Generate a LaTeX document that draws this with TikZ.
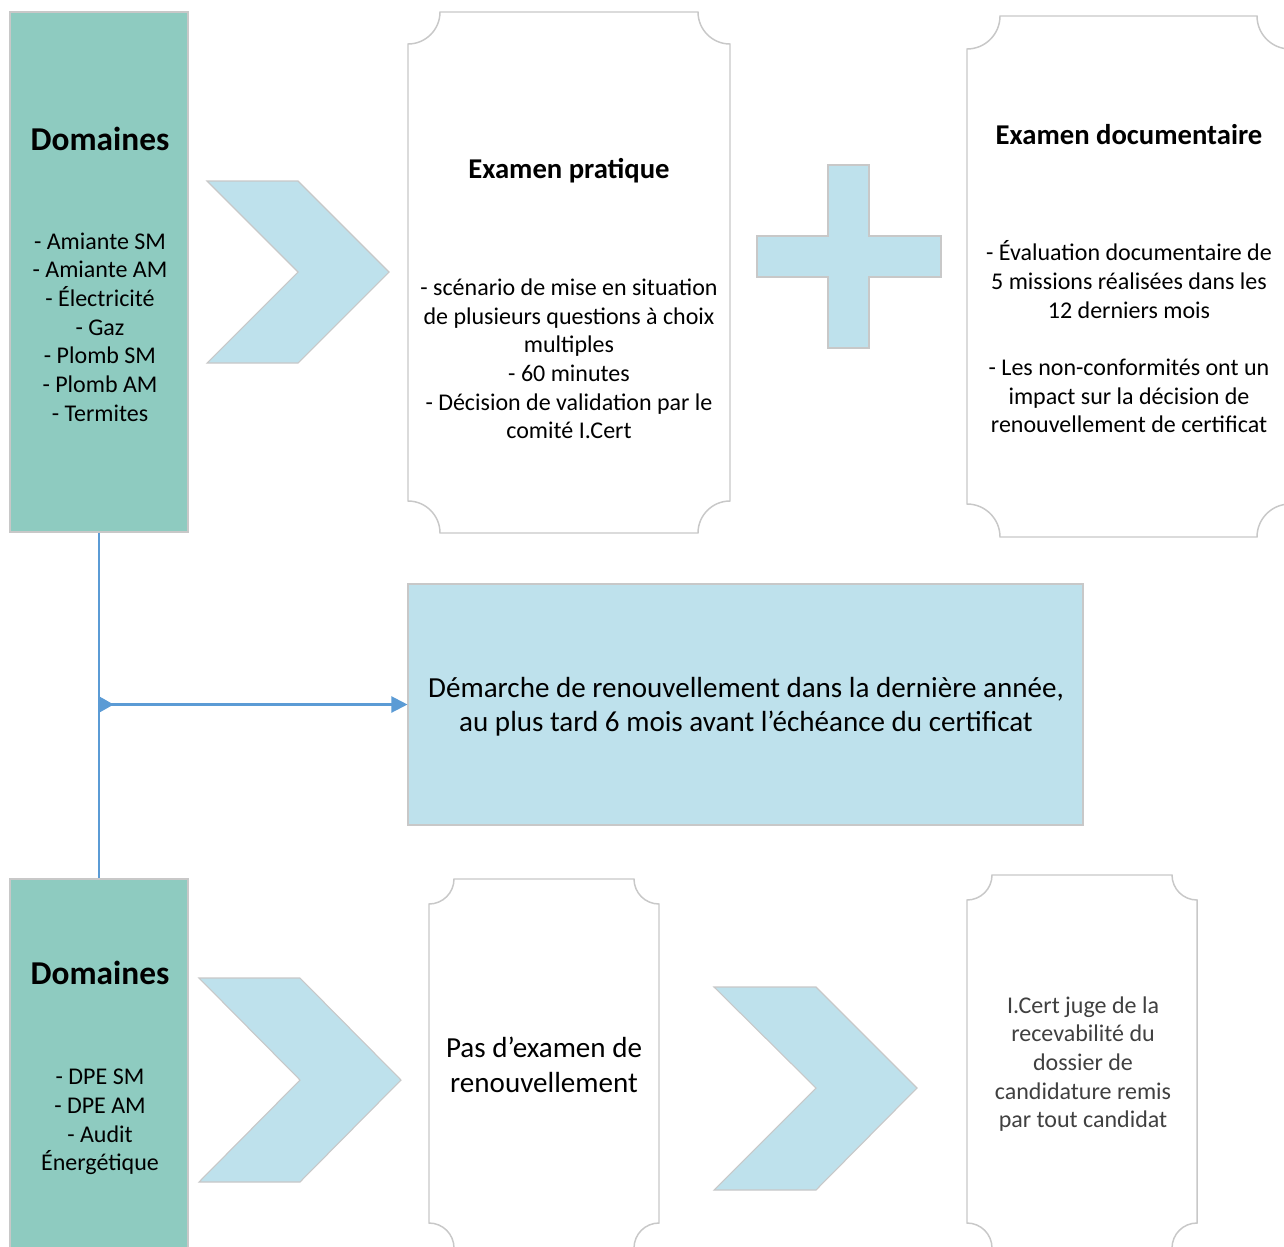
\documentclass[tikz,border=0pt]{standalone}
\usepackage{fontspec}
\setmainfont{Carlito}
\usetikzlibrary{arrows.meta}
\definecolor{tealfill}{HTML}{8ECBC0}
\definecolor{lblue}{HTML}{BEE1EC}
\definecolor{edgegray}{HTML}{C8C8C8}
\definecolor{linkblue}{HTML}{5B9BD5}
\definecolor{txtgray}{HTML}{404040}
\newcommand{\txtBody}{\fontsize{18pt}{21.5pt}\selectfont}
\newcommand{\txtBig}{\fontsize{21.8pt}{25.8pt}\selectfont}
\newcommand{\txtHead}{\fontsize{21.5pt}{25pt}\selectfont\bfseries}
\newcommand{\txtDom}{\fontsize{25pt}{29pt}\selectfont\bfseries}
\newcommand{\plaquepath}[5]{%
  \draw[plaque] ({#1+#5},#2) -- ({#3-#5},#2)
   .. controls ({#3-#5},{#2+0.552*#5}) and ({#3-0.552*#5},{#2+#5}) .. (#3,{#2+#5})
   -- (#3,{#4-#5})
   .. controls ({#3-0.552*#5},{#4-#5}) and ({#3-#5},{#4-0.552*#5}) .. ({#3-#5},#4)
   -- ({#1+#5},#4)
   .. controls ({#1+#5},{#4-0.552*#5}) and ({#1+0.552*#5},{#4-#5}) .. (#1,{#4-#5})
   -- (#1,{#2+#5})
   .. controls ({#1+0.552*#5},{#2+#5}) and ({#1+#5},{#2+0.552*#5}) .. cycle;}
\tikzset{
  plaque/.style={draw=edgegray, line width=1.1pt, fill=white},
  domainbox/.style={draw=edgegray, line width=0.8pt, fill=tealfill, minimum width=133.5pt, inner sep=0pt},
  shapefill/.style={draw=edgegray, line width=0.8pt, fill=lblue, line join=miter},
  txt/.style={align=center, inner sep=0pt, text=black},
  link/.style={draw=linkblue, line width=1.6pt}
}
\begin{document}
\begin{tikzpicture}[x=0.75pt,y=-0.75pt]
\clip (0,0) rectangle (1284,1246);
\fill[white] (0,0) rectangle (1284,1246);

% domain boxes
\node[domainbox, minimum height=390pt] (dom1) at (99,272) {};
\node[domainbox, minimum height=290.25pt] (dom2) at (99,1072.5) {};

% main rectangle
\node[shapefill, minimum width=506.25pt, minimum height=180.75pt, inner sep=0pt] (rect) at (745.5,704.5) {};

% connectors
\coordinate (junc) at (dom1.south |- rect.west);
\draw[link] (dom1.south) -- (dom2.north);
\draw[link, {Triangle[reversed,length=11pt,width=12pt]}-{Triangle[length=12pt,width=12pt]}] (junc) -- (rect.west);

% chevrons
\path[shapefill] (207,181) -- (298,181) -- (389,272) -- (298,363) -- (207,363) -- (298,272) -- cycle;
\path[shapefill] (199,978) -- (300,978) -- (401,1080) -- (300,1182) -- (199,1182) -- (300,1080) -- cycle;
\path[shapefill] (714,987) -- (816,987) -- (917,1088) -- (816,1190) -- (714,1190) -- (816,1088) -- cycle;

% plus sign
\path[shapefill] (828,165) -- (869,165) -- (869,236) -- (941,236) -- (941,277) -- (869,277) -- (869,348) -- (828,348) -- (828,277) -- (757,277) -- (757,236) -- (828,236) -- cycle;

% plaques
\plaquepath{408}{12}{730}{533}{32}
\plaquepath{967}{16}{1290}{537}{33}
\plaquepath{429}{879}{659}{1248}{25}
\plaquepath{967}{875}{1197}{1248}{25}

% texts
\node[txt, font=\txtDom] (domhead1) at (100,139) {Domaines};
\node[txt, font=\txtBody] (domlist1) at (100,327) {- Amiante SM\\- Amiante AM\\- Électricité\\- Gaz\\- Plomb SM\\- Plomb AM\\- Termites};

\node[txt, font=\txtDom] (domhead2) at (100,973) {Domaines};
\node[txt, font=\txtBody] (domlist2) at (100,1122) {- DPE SM\\- DPE AM\\- Audit\\Énergétique};

\node[txt, font=\txtHead] (prahead) at (569,171) {Examen pratique};
\node[txt, font=\txtBody] (prabody) at (569,359) {- scénario de mise en situation\\de plusieurs questions à choix\\multiples\\- 60 minutes\\- Décision de validation par le\\comité I.Cert};

\node[txt, font=\txtHead] (dochead) at (1129,135) {Examen documentaire};
\node[txt, font=\txtBody] (docbody) at (1129,337) {- Évaluation documentaire de\\5 missions réalisées dans les\\12 derniers mois\\[21.5pt]- Les non-conformités ont un\\impact sur la décision de\\renouvellement de certificat};

\node[txt, font=\txtBig] (recttxt) at (746,707) {Démarche de renouvellement dans la dernière année,\\au plus tard 6 mois avant l’échéance du certificat};

\node[txt, font=\txtBig] (pastxt) at (544,1065) {Pas d’examen de\\renouvellement};

\node[txt, font=\txtBody, text=txtgray] (certtxt) at (1083,1064) {I.Cert juge de la\\recevabilité du\\dossier de\\candidature remis\\par tout candidat};
\end{tikzpicture}
\end{document}
